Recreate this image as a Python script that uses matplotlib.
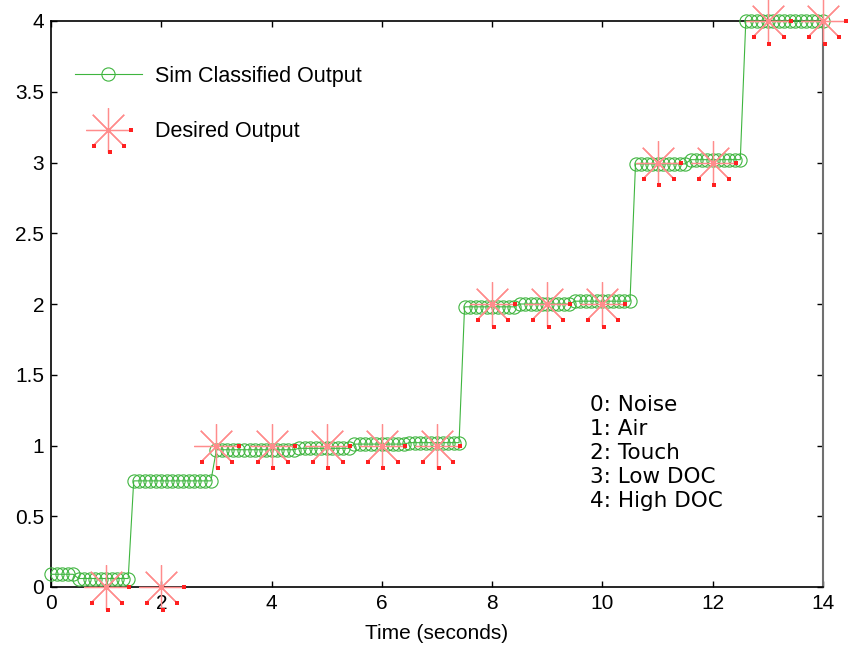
import numpy as np
import matplotlib
matplotlib.use("Agg")
import matplotlib.pyplot as plt
import matplotlib.transforms as mtrans
from matplotlib.lines import Line2D
from matplotlib.legend_handler import HandlerLine2D

### Classifier output: level held in each block, and number of 0.1 s samples in it
SIM_LEVELS = [0.09, 0.06, 0.75, 0.97, 0.98, 1.01, 1.02, 1.98, 2.00, 2.02, 2.99, 3.02, 4.00]
SIM_COUNTS = [5, 10, 15, 15, 10, 10, 10, 10, 10, 11, 10, 10, 15]
SAMPLE_DT = 0.1

### Desired output (one marker per second)
DESIRED_T = [1, 2, 3, 4, 5, 6, 7, 8, 9, 10, 11, 12, 13, 14]
DESIRED_Y = [0, 0, 1, 1, 1, 1, 1, 2, 2, 2, 3, 3, 4, 4]

CLASS_LABELS = ["0: Noise", "1: Air", "2: Touch", "3: Low DOC", "4: High DOC"]

X_TICKS = [0, 2, 4, 6, 8, 10, 12, 14]
Y_TICKS = [0, 0.5, 1, 1.5, 2, 2.5, 3, 3.5, 4]

GREEN = "#3fb53f"
PINK = "#ff8c8c"
RED = "#ff2020"

# pixel offsets of the little red dots at the asterisk arm tips
DOT_OFFSETS = [(23, 0), (-14, -16), (16, -16), (1.5, -22.5)]
DOT_SIZE = 2.6

plt.rcParams["font.family"] = ["Liberation Sans", "DejaVu Sans"]


class AsteriskHandler(HandlerLine2D):
    # legend handle for the asterisk, with the same tip dots
    def create_artists(self, legend, orig_handle, xdescent, ydescent,
                       width, height, fontsize, trans):
        artists = super().create_artists(legend, orig_handle, xdescent, ydescent,
                                         width, height, fontsize, trans)
        cx = 0.5 * width - xdescent
        cy = 0.5 * (height - ydescent)
        for dx, dy in DOT_OFFSETS:
            dot = Line2D([cx + dx * 0.72], [cy + dy * 0.72], ls="none", marker="s",
                         ms=DOT_SIZE, mew=0, color=RED, transform=trans)
            artists.append(dot)
        return artists


sim_y = np.repeat(SIM_LEVELS, SIM_COUNTS)
sim_t = np.arange(len(sim_y)) * SAMPLE_DT

fig = plt.figure(figsize=(8.51, 6.45), dpi=100)
ax = fig.add_axes([51 / 851, 1 - 587 / 645, 772 / 851, 566 / 645])

ax.plot(sim_t, sim_y, color=GREEN, lw=0.8, marker="o", ms=9.5, mfc="none",
        mec=GREEN, mew=0.8, clip_on=False, zorder=3, label="Sim Classified Output")

# asterisk marker, 8 arms
desired, = ax.plot(DESIRED_T, DESIRED_Y, ls="none", marker=(8, 2, 0), ms=32, mec=PINK,
                   mew=0.9, clip_on=False, zorder=4, label="Desired Output")

for dx, dy in DOT_OFFSETS:
    tr = mtrans.offset_copy(ax.transData, fig=fig, x=dx, y=dy, units="dots")
    ax.plot(DESIRED_T, DESIRED_Y, ls="none", marker="s", ms=DOT_SIZE, mew=0,
            color=RED, transform=tr, clip_on=False, zorder=5)

ax.set_xlim(0, 14)
ax.set_ylim(0, 4)
ax.set_xticks(X_TICKS)
ax.set_xticklabels([str(v) for v in X_TICKS])
ax.set_yticks(Y_TICKS)
ax.set_yticklabels(["%g" % v for v in Y_TICKS])
ax.tick_params(direction="in", length=4, width=1, labelsize=15, pad=5,
               top=True, right=True)
ax.set_xlabel("Time (seconds)", fontsize=15, labelpad=8)

for side in ["left", "bottom", "top"]:
    ax.spines[side].set_linewidth(1.2)
    ax.spines[side].set_color("black")
ax.spines["right"].set_color("#707070")
ax.spines["right"].set_linewidth(1.5)

ax.legend(loc="upper left", bbox_to_anchor=(0.006, 0.955), frameon=False,
          fontsize=15.5, handlelength=3.1, handletextpad=0.6, labelspacing=1.6,
          handler_map={desired: AsteriskHandler()})

ax.text(9.77, 1.354, "\n".join(CLASS_LABELS), family="DejaVu Sans", fontsize=15.5,
        va="top", ha="left", linespacing=1.245)

fig.savefig("out.png", dpi=100)
